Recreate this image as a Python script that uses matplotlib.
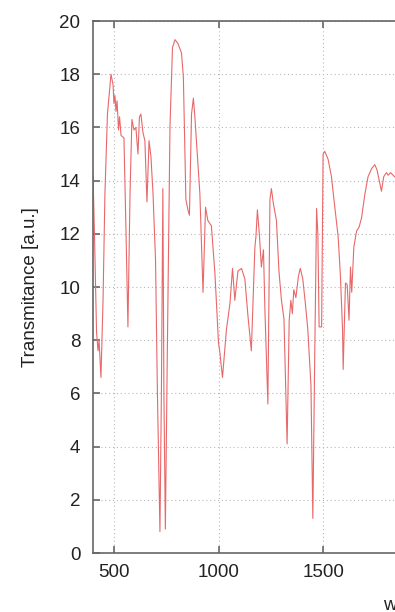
import matplotlib
matplotlib.use("Agg")
import matplotlib.pyplot as plt

# IR spectrum (wavenumber in cm^-1, transmittance in a.u.)
wavenumber = [400, 407, 417, 424, 429, 438, 448, 457, 469, 486,
              496, 500, 505, 510, 515, 522, 527, 534, 548, 558,
              567, 577, 586, 596, 605, 615, 622, 629, 639, 648,
              658, 668, 677, 687, 699, 708, 720, 727, 734, 739,
              746, 756, 768, 780, 792, 806, 823, 832, 844, 854,
              861, 871, 880, 887, 902, 911, 926, 938, 949, 966,
              983, 1000, 1007, 1019, 1038, 1055, 1067, 1078, 1093, 1110,
              1126, 1141, 1157, 1174, 1179, 1186, 1196, 1205, 1215, 1222,
              1236, 1246, 1253, 1262, 1277, 1289, 1301, 1313, 1328, 1338,
              1346, 1353, 1360, 1370, 1382, 1391, 1403, 1415, 1427, 1442,
              1451, 1461, 1469, 1475, 1481, 1493, 1500, 1508, 1524, 1540,
              1556, 1572, 1583, 1593, 1596, 1607, 1615, 1624, 1631, 1637,
              1647, 1660, 1672, 1684, 1700, 1715, 1732, 1747, 1758, 1771,
              1779, 1790, 1803, 1811, 1822, 1835, 1848, 1860]
transmittance = [14.2, 12.0, 8.3, 7.6, 8.0, 6.6, 9.5, 13.5, 16.5, 18.0,
                 17.6, 16.9, 17.2, 16.6, 17.0, 15.9, 16.4, 15.7, 15.6, 12.0,
                 8.5, 13.5, 16.3, 15.9, 16.0, 15.0, 16.4, 16.5, 15.8, 15.5,
                 13.2, 15.5, 14.9, 13.5, 11.0, 6.0, 0.8, 6.0, 13.7, 6.0,
                 0.9, 8.0, 16.0, 19.0, 19.3, 19.15, 18.8, 17.9, 13.3, 12.9,
                 12.7, 16.5, 17.1, 16.4, 14.6, 13.5, 9.8, 13.0, 12.5, 12.3,
                 10.5, 7.9, 7.5, 6.6, 8.4, 9.4, 10.7, 9.5, 10.6, 10.7,
                 10.3, 8.9, 7.6, 11.5, 11.9, 12.9, 11.9, 10.75, 11.4, 9.1,
                 5.6, 13.3, 13.7, 13.15, 12.5, 10.6, 9.5, 8.8, 4.1, 8.75,
                 9.5, 9.0, 9.9, 9.6, 10.4, 10.7, 10.3, 9.4, 8.4, 6.3,
                 1.3, 8.0, 12.95, 12.0, 8.5, 8.5, 15.0, 15.1, 14.8, 14.15,
                 13.0, 11.9, 10.4, 8.4, 6.9, 10.15, 10.1, 8.75, 10.75, 9.8,
                 11.5, 12.1, 12.25, 12.6, 13.5, 14.15, 14.45, 14.6, 14.4, 13.9,
                 13.6, 14.15, 14.3, 14.2, 14.3, 14.2, 14.1, 14.2]

# only the ticks that fall inside the cropped view
x_ticks = [500, 1000, 1500]
y_ticks = [0, 2, 4, 6, 8, 10, 12, 14, 16, 18, 20]

plt.rcParams['font.family'] = ['Liberation Sans', 'DejaVu Sans']

fig = plt.figure(figsize=(3.95, 6.12), dpi=100)
# axes continues past the right edge of the picture (reference is cropped)
ax = fig.add_axes([93 / 395, 59 / 612, 753 / 395, 532 / 612])

ax.plot(wavenumber, transmittance, color='#e8686a', linewidth=0.8)

ax.set_xlim(400, 4000)
ax.set_ylim(0, 20)
ax.set_xticks(x_ticks)
ax.set_yticks(y_ticks)

ax.grid(True, color='#b8b8b8', linestyle=(0, (1, 2.5)), linewidth=0.8)
ax.tick_params(direction='in', length=5, width=1.2, color='#666666',
               labelsize=13.5, labelcolor='#222222', top=True, right=True)
ax.tick_params(axis='y', pad=9)
ax.tick_params(axis='x', pad=8)
for spine in ax.spines.values():
    spine.set_color('#666666')
    spine.set_linewidth(1.2)

ax.set_ylabel('Transmitance [a.u.]', fontsize=13.5, color='#222222', labelpad=15)
fig.text(383 / 395, 1 - 604 / 612, 'wavenumber [cm$^{-1}$]', fontsize=13.5,
         color='#222222', ha='left', va='center')

fig.savefig('out.png', dpi=100)
